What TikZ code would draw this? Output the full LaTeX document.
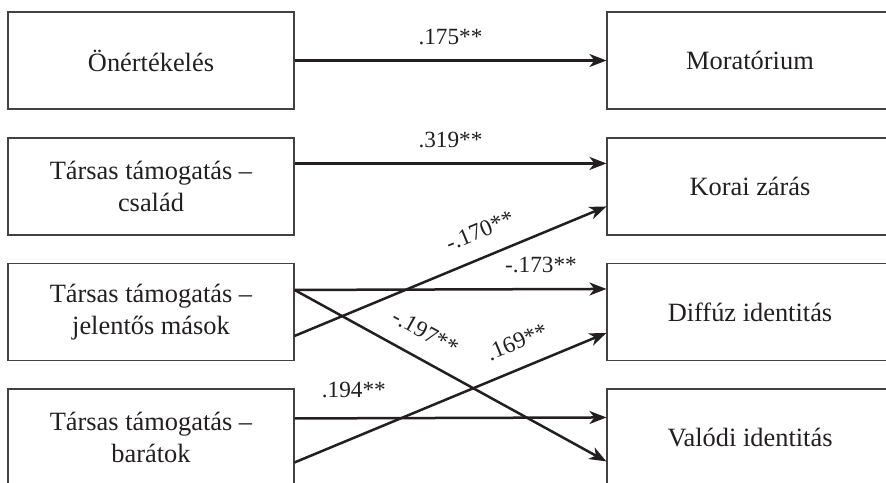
\documentclass[tikz,border=0pt]{standalone}
\usepackage{fontspec}
\setmainfont{Liberation Serif}
\usetikzlibrary{arrows.meta,calc}
\definecolor{ink}{HTML}{231F20}
\begin{document}
\begin{tikzpicture}[x=1bp,y=-1bp,
  box/.style={draw=ink!85, line width=1.1bp, minimum width=286bp, minimum height=97bp, inner sep=0pt, align=center, text=ink, font=\fontsize{26.5}{32}\selectfont},
  link/.style={draw=ink, line width=2.5bp, -{Stealth[length=17bp,width=13bp,inset=5bp]}},
  coef/.style={font=\fontsize{23.3}{28}\selectfont, text=ink, inner sep=0pt},
]
\useasboundingbox (0,0) rectangle (886,483);
\clip (0,0) rectangle (886,483);
\node[box] (o) at (151,60.5) {Önértékelés};
\node[box] (c) at (151,186.5) {Társas támogatás –\\család};
\node[box] (j) at (151,312) {Társas támogatás –\\jelentős mások};
\node[box] (b) at (151,437.5) {Társas támogatás –\\barátok};
\node[box] (m) at (750,60.5) {Moratórium};
\node[box] (k) at (750,186.5) {Korai zárás};
\node[box] (d) at (750,312) {Diffúz identitás};
\node[box] (v) at (750,437.5) {Valódi identitás};
\draw[link] (o.east) -- node[coef, above=14bp] {.175**} (m.west);
\draw[link] ($(c.north east)+(0,26)$) -- node[coef, above=14bp] {.319**} ($(k.north west)+(0,26)$);
\draw[link] ($(j.north east)+(0,73)$) -- node[coef, sloped, above=17bp, pos=0.626] {-.170**} ($(k.north west)+(0,69)$);
\draw[link] ($(j.north east)+(0,27)$) -- node[coef, above=15bp, pos=0.79] {-.173**} ($(d.north west)+(0,26)$);
\draw[link] ($(j.north east)+(0,27)$) -- node[coef, sloped, above=17bp, pos=0.379] {-.197**} ($(v.north west)+(0,73)$);
\draw[link] ($(b.north east)+(0,30)$) -- node[coef, above=19bp, pos=0.19] {.194**} ($(v.north west)+(0,29)$);
\draw[link] ($(b.north east)+(0,74)$) -- node[coef, sloped, above=17bp, pos=0.745] {.169**} ($(d.north west)+(0,70)$);
\end{tikzpicture}
\end{document}
